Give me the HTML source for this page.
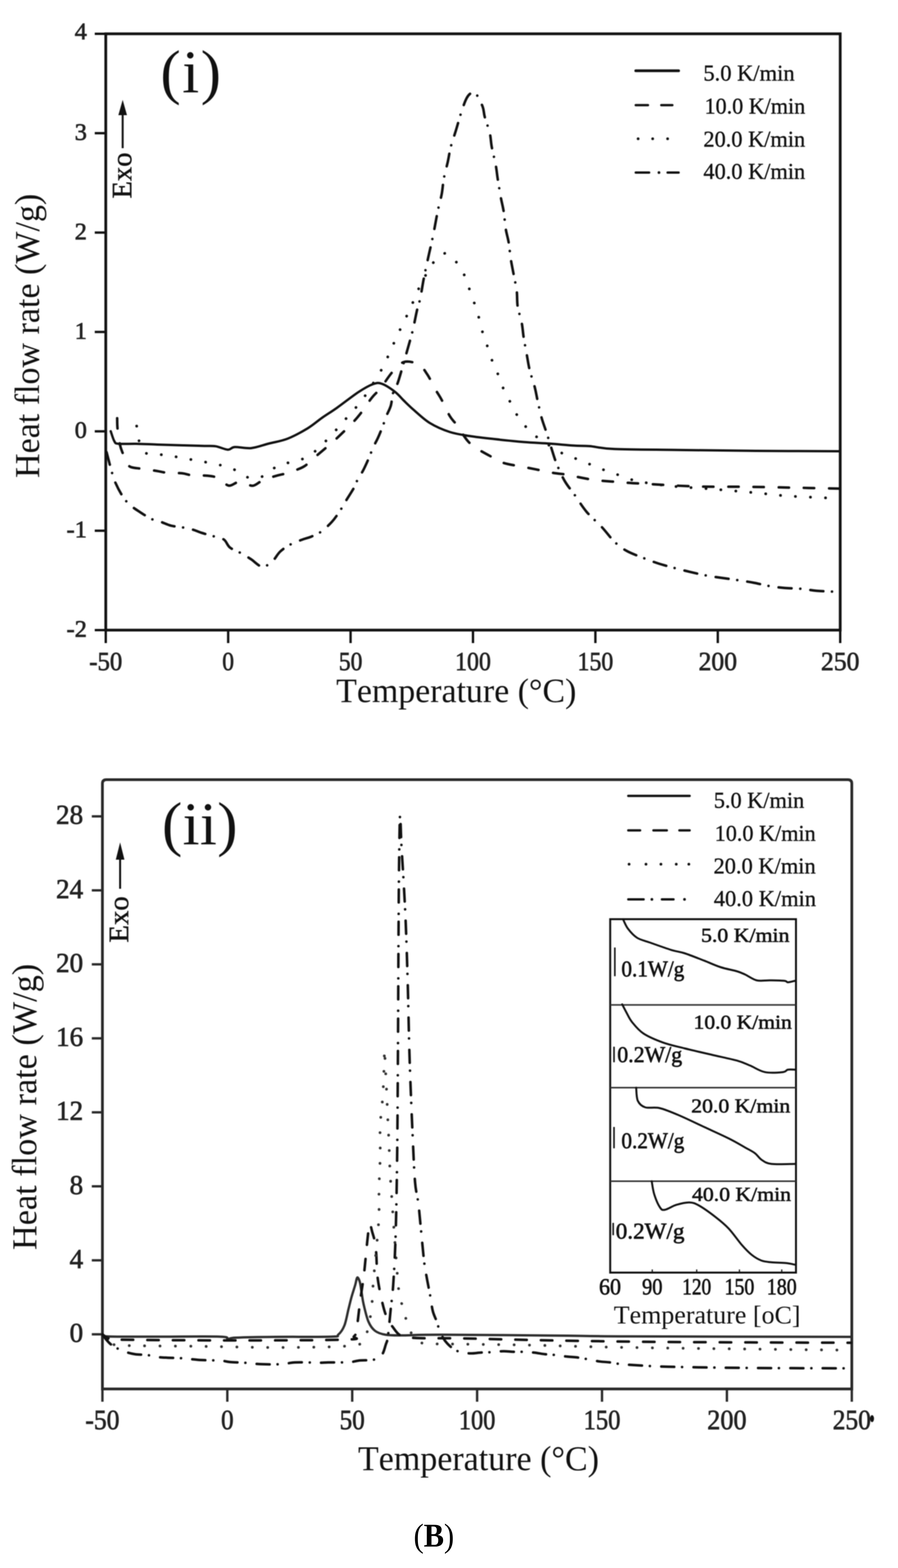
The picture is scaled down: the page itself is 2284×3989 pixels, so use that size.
<!DOCTYPE html>
<html><head><meta charset="utf-8"><title>Heat flow rate DSC curves (B)</title>
<style>
html,body{margin:0;padding:0;background:#fff;}
body{width:2284px;height:3989px;overflow:hidden;}
svg{display:block;font-family:'Liberation Serif', 'Times New Roman', serif;font-kerning:none;}
svg.main{filter:blur(1.3px);}
svg.cap{position:absolute;left:0;top:3800px;}
body{position:relative;}
</style></head>
<body>
<svg class="main" width="2284" height="3989" viewBox="0 0 2284 3989">
<rect width="2284" height="3989" fill="#fff"/>
<g stroke="#111" stroke-width="7" fill="none" stroke-linecap="square">
<path d="M269,1603 L269,86 L2137,86 L2137,1603 Z"/>
</g>
<line x1="241" y1="1603.0" x2="269" y2="1603.0" stroke="#111" stroke-width="6" />
<line x1="241" y1="1350.1666666666667" x2="269" y2="1350.1666666666667" stroke="#111" stroke-width="6" />
<line x1="241" y1="1097.3333333333335" x2="269" y2="1097.3333333333335" stroke="#111" stroke-width="6" />
<line x1="241" y1="844.5" x2="269" y2="844.5" stroke="#111" stroke-width="6" />
<line x1="241" y1="591.6666666666667" x2="269" y2="591.6666666666667" stroke="#111" stroke-width="6" />
<line x1="241" y1="338.83333333333337" x2="269" y2="338.83333333333337" stroke="#111" stroke-width="6" />
<line x1="241" y1="86.0" x2="269" y2="86.0" stroke="#111" stroke-width="6" />
<line x1="269.0" y1="1603" x2="269.0" y2="1636" stroke="#111" stroke-width="6" />
<line x1="580.3333333333333" y1="1603" x2="580.3333333333333" y2="1636" stroke="#111" stroke-width="6" />
<line x1="891.6666666666666" y1="1603" x2="891.6666666666666" y2="1636" stroke="#111" stroke-width="6" />
<line x1="1203.0" y1="1603" x2="1203.0" y2="1636" stroke="#111" stroke-width="6" />
<line x1="1514.3333333333333" y1="1603" x2="1514.3333333333333" y2="1636" stroke="#111" stroke-width="6" />
<line x1="1825.6666666666667" y1="1603" x2="1825.6666666666667" y2="1636" stroke="#111" stroke-width="6" />
<line x1="2137.0" y1="1603" x2="2137.0" y2="1636" stroke="#111" stroke-width="6" />
<text x="221" y="1620" font-size="62" text-anchor="end" font-weight="normal" fill="#222" stroke="#222" stroke-width="1.6">-2</text>
<text x="221" y="1367" font-size="62" text-anchor="end" font-weight="normal" fill="#222" stroke="#222" stroke-width="1.6">-1</text>
<text x="221" y="1114" font-size="62" text-anchor="end" font-weight="normal" fill="#222" stroke="#222" stroke-width="1.6">0</text>
<text x="221" y="862" font-size="62" text-anchor="end" font-weight="normal" fill="#222" stroke="#222" stroke-width="1.6">1</text>
<text x="221" y="609" font-size="62" text-anchor="end" font-weight="normal" fill="#222" stroke="#222" stroke-width="1.6">2</text>
<text x="221" y="356" font-size="62" text-anchor="end" font-weight="normal" fill="#222" stroke="#222" stroke-width="1.6">3</text>
<text x="221" y="100" font-size="62" text-anchor="end" font-weight="normal" fill="#222" stroke="#222" stroke-width="1.6">4</text>
<text x="269.0" y="1705" font-size="68" text-anchor="middle" font-weight="normal" fill="#222" textLength="84" lengthAdjust="spacingAndGlyphs" stroke="#222" stroke-width="1.6">-50</text>
<text x="580.3" y="1705" font-size="68" text-anchor="middle" font-weight="normal" fill="#222" textLength="30" lengthAdjust="spacingAndGlyphs" stroke="#222" stroke-width="1.6">0</text>
<text x="891.7" y="1705" font-size="68" text-anchor="middle" font-weight="normal" fill="#222" textLength="60" lengthAdjust="spacingAndGlyphs" stroke="#222" stroke-width="1.6">50</text>
<text x="1203.0" y="1705" font-size="68" text-anchor="middle" font-weight="normal" fill="#222" textLength="91" lengthAdjust="spacingAndGlyphs" stroke="#222" stroke-width="1.6">100</text>
<text x="1514.3" y="1705" font-size="68" text-anchor="middle" font-weight="normal" fill="#222" textLength="91" lengthAdjust="spacingAndGlyphs" stroke="#222" stroke-width="1.6">150</text>
<text x="1825.7" y="1705" font-size="68" text-anchor="middle" font-weight="normal" fill="#222" textLength="98" lengthAdjust="spacingAndGlyphs" stroke="#222" stroke-width="1.6">200</text>
<text x="2137.0" y="1705" font-size="68" text-anchor="middle" font-weight="normal" fill="#222" textLength="98" lengthAdjust="spacingAndGlyphs" stroke="#222" stroke-width="1.6">250</text>
<text transform="translate(98.5,1216) rotate(-90)" x="0" y="0" font-size="88" fill="#111" textLength="723" lengthAdjust="spacingAndGlyphs" >Heat flow rate (W/g)</text>
<text x="855" y="1786" font-size="87" text-anchor="start" font-weight="normal" fill="#111" textLength="611" lengthAdjust="spacingAndGlyphs" >Temperature (°C)</text>
<text x="408" y="235" font-size="155" fill="#111" textLength="154" lengthAdjust="spacing">(i)</text>
<text transform="translate(334,505) rotate(-90)" x="0" y="0" font-size="72" fill="#111" textLength="117" lengthAdjust="spacingAndGlyphs" stroke="#111" stroke-width="1">Exo</text>
<line x1="312" y1="377" x2="312" y2="285" stroke="#111" stroke-width="5" />
<path d="M312,254 L301,293 L323,293 Z" fill="#111"/>
<line x1="1617" y1="180" x2="1726" y2="180" stroke="#111" stroke-width="7" stroke-linecap="round"/>
<text x="1789" y="205" font-size="56" text-anchor="start" font-weight="normal" fill="#111" textLength="232" lengthAdjust="spacingAndGlyphs" stroke="#111" stroke-width="0.8">5.0 K/min</text>
<line x1="1617" y1="267.5" x2="1648" y2="267.5" stroke="#111" stroke-width="6" stroke-linecap="round"/>
<line x1="1682" y1="267.5" x2="1710" y2="267.5" stroke="#111" stroke-width="6" stroke-linecap="round"/>
<text x="1792" y="289" font-size="56" text-anchor="start" font-weight="normal" fill="#111" textLength="256" lengthAdjust="spacingAndGlyphs" stroke="#111" stroke-width="0.8">10.0 K/min</text>
<circle cx="1623" cy="353" r="3.5" fill="#111"/>
<circle cx="1660" cy="353" r="3.5" fill="#111"/>
<circle cx="1698" cy="353" r="3.5" fill="#111"/>
<text x="1789" y="373" font-size="56" text-anchor="start" font-weight="normal" fill="#111" textLength="259" lengthAdjust="spacingAndGlyphs" stroke="#111" stroke-width="0.8">20.0 K/min</text>
<line x1="1617" y1="439" x2="1651" y2="439" stroke="#111" stroke-width="6" stroke-linecap="round"/>
<circle cx="1676" cy="439" r="3.5" fill="#111"/>
<line x1="1698" y1="439" x2="1726" y2="439" stroke="#111" stroke-width="6" stroke-linecap="round"/>
<text x="1789" y="455" font-size="56" text-anchor="start" font-weight="normal" fill="#111" textLength="259" lengthAdjust="spacingAndGlyphs" stroke="#111" stroke-width="0.8">40.0 K/min</text>
<path d="M281.6,1097.0 C283.2,1101.3 287.6,1117.4 290.9,1122.7 C294.2,1128.0 291.9,1127.9 301.2,1128.9 C310.5,1130.0 330.0,1128.7 346.5,1129.0 C363.0,1129.3 380.1,1130.3 400.0,1131.0 C419.9,1131.7 446.0,1132.4 466.0,1133.0 C486.0,1133.6 506.2,1134.0 520.0,1134.4 C533.8,1134.8 538.9,1133.8 548.8,1135.4 C558.7,1137.0 571.6,1143.7 579.6,1144.0 C587.6,1144.3 587.1,1138.0 597.0,1137.3 C606.9,1136.6 624.8,1141.5 639.2,1140.0 C653.6,1138.5 668.1,1132.5 683.5,1128.5 C698.9,1124.5 715.0,1122.5 731.5,1116.0 C748.0,1109.5 768.0,1098.4 782.6,1089.6 C797.2,1080.8 806.6,1071.7 819.0,1063.0 C831.4,1054.3 841.1,1048.7 856.7,1037.7 C872.3,1026.7 896.9,1007.1 912.4,997.0 C927.9,986.9 939.6,980.4 949.5,977.0 C959.4,973.6 962.5,973.2 971.7,976.5 C981.0,979.8 995.8,989.9 1005.0,997.0 C1014.2,1004.1 1019.1,1011.3 1027.0,1019.0 C1034.9,1026.7 1041.5,1033.5 1052.5,1043.0 C1063.5,1052.5 1077.8,1066.7 1093.0,1076.0 C1108.2,1085.3 1127.0,1093.5 1144.0,1099.0 C1161.0,1104.5 1176.2,1106.2 1194.8,1109.2 C1213.4,1112.2 1232.9,1114.3 1255.8,1116.8 C1278.7,1119.3 1308.3,1122.5 1332.0,1124.4 C1355.7,1126.4 1376.8,1127.0 1398.0,1128.5 C1419.2,1130.0 1442.0,1132.5 1459.0,1133.6 C1476.0,1134.7 1482.8,1133.5 1500.0,1135.0 C1517.2,1136.5 1524.8,1140.7 1562.5,1142.3 C1600.2,1143.9 1665.9,1143.9 1726.0,1144.7 C1786.1,1145.5 1855.0,1146.5 1923.0,1147.0 C1991.0,1147.5 2098.8,1147.8 2134.0,1148.0" fill="none" stroke="#111" stroke-width="6" stroke-linecap="round" stroke-linejoin="round"/>
<path d="M298.0,1064.0 C298.2,1068.5 297.8,1079.8 299.0,1091.0 C300.2,1102.2 302.8,1120.6 305.0,1131.0 C307.2,1141.4 309.2,1145.4 312.5,1153.6 C315.8,1161.8 321.4,1174.2 325.0,1180.0 C328.6,1185.8 327.7,1186.6 334.0,1188.7 C340.3,1190.8 352.3,1191.2 363.0,1192.8 C373.7,1194.3 387.3,1196.3 398.0,1198.0 C408.7,1199.7 416.2,1202.0 427.0,1203.0 C437.8,1204.0 452.7,1203.0 463.0,1204.0 C473.3,1205.0 477.9,1208.2 488.7,1209.3 C499.5,1210.3 516.9,1209.1 527.9,1210.3 C538.9,1211.5 545.7,1212.0 554.6,1216.2 C563.5,1220.4 573.2,1233.6 581.5,1235.4 C589.8,1237.2 597.4,1227.7 604.6,1227.0 C611.9,1226.3 618.3,1229.6 625.0,1231.0 C631.7,1232.4 637.5,1237.1 645.0,1235.4 C652.5,1233.7 659.8,1225.3 670.0,1221.0 C680.2,1216.7 695.9,1212.5 706.5,1209.4 C717.1,1206.4 722.6,1206.4 733.5,1202.7 C744.4,1199.0 761.8,1193.1 772.0,1187.3 C782.2,1181.5 782.1,1179.0 795.0,1168.0 C807.9,1157.0 833.0,1136.3 849.5,1121.4 C866.0,1106.5 882.4,1090.3 893.8,1078.5 C905.2,1066.7 909.3,1061.8 918.0,1050.7 C926.7,1039.6 937.5,1022.2 945.8,1011.7 C954.1,1001.2 959.4,998.4 968.0,987.6 C976.6,976.8 987.9,957.9 997.7,946.8 C1007.5,935.7 1015.9,924.3 1027.0,921.0 C1038.1,917.7 1054.5,921.8 1064.5,927.0 C1074.5,932.2 1079.4,941.5 1086.7,952.4 C1094.0,963.3 1102.2,981.4 1108.4,992.3 C1114.6,1003.2 1117.7,1006.7 1123.6,1017.7 C1129.5,1028.7 1137.7,1047.8 1144.0,1058.4 C1150.3,1069.0 1154.1,1070.6 1161.7,1081.2 C1169.3,1091.8 1180.8,1111.7 1189.7,1121.9 C1198.6,1132.1 1204.0,1135.0 1215.0,1142.2 C1226.0,1149.4 1244.8,1159.2 1255.8,1165.1 C1266.8,1171.0 1271.0,1174.4 1281.2,1177.8 C1291.4,1181.2 1306.1,1183.3 1316.7,1185.4 C1327.3,1187.5 1333.7,1188.4 1344.7,1190.5 C1355.7,1192.6 1372.2,1196.0 1382.8,1198.1 C1393.4,1200.2 1397.2,1201.5 1408.2,1203.2 C1419.2,1204.9 1438.7,1206.6 1448.9,1208.3 C1459.1,1210.0 1459.0,1211.3 1469.2,1213.4 C1479.4,1215.5 1498.9,1219.3 1509.9,1221.0 C1520.9,1222.7 1525.1,1222.7 1535.3,1223.5 C1545.5,1224.3 1559.9,1225.2 1570.9,1226.1 C1581.9,1226.9 1589.2,1227.8 1601.4,1228.6 C1613.6,1229.4 1616.1,1229.5 1644.0,1231.0 C1671.9,1232.5 1725.7,1236.2 1769.0,1237.5 C1812.3,1238.8 1859.9,1237.9 1904.0,1238.5 C1948.1,1239.1 1995.4,1240.2 2033.7,1240.9 C2072.0,1241.7 2117.3,1242.7 2134.0,1243.0" fill="none" stroke="#111" stroke-width="6.5" stroke-linecap="round" stroke-linejoin="round" stroke-dasharray="26 38"/>
<path d="M347.6,1084.0 C348.3,1089.3 348.4,1104.7 352.0,1116.0 C355.6,1127.3 359.6,1144.8 369.2,1151.6 C378.8,1158.4 396.5,1155.0 409.4,1156.7 C422.3,1158.4 433.8,1159.9 446.5,1161.9 C459.2,1164.0 472.7,1166.7 485.6,1169.0 C498.5,1171.3 511.2,1173.4 523.8,1175.8 C536.4,1178.2 548.8,1180.1 561.3,1183.5 C573.8,1186.9 586.3,1190.5 598.8,1196.0 C611.3,1201.5 623.8,1214.0 636.3,1216.2 C648.8,1218.4 661.6,1215.0 673.8,1209.4 C686.0,1203.8 697.0,1188.3 709.4,1182.5 C721.8,1176.7 735.1,1178.6 747.9,1174.8 C760.7,1171.0 774.0,1167.0 786.3,1159.4 C798.6,1151.8 809.4,1140.8 821.6,1129.0 C833.8,1117.2 847.9,1101.5 859.7,1088.4 C871.6,1075.3 882.1,1062.6 892.7,1050.3 C903.3,1038.0 910.1,1033.4 923.2,1014.7 C936.3,996.1 960.3,957.8 971.5,938.4 C982.7,919.0 984.4,911.4 990.3,898.6 C996.2,885.8 1001.1,874.3 1007.0,861.5 C1012.9,848.7 1019.3,834.7 1025.5,821.8 C1031.7,808.9 1038.2,797.1 1044.0,784.3 C1049.8,771.5 1054.0,758.2 1060.0,745.0 C1066.0,731.8 1073.2,717.6 1080.0,705.0 C1086.8,692.4 1094.3,678.8 1101.0,669.6 C1107.7,660.4 1113.7,653.9 1120.0,650.0 C1126.3,646.1 1130.8,642.0 1138.9,646.5 C1147.0,651.0 1160.5,665.5 1168.6,677.0 C1176.7,688.5 1182.4,703.2 1187.5,715.8 C1192.6,728.4 1194.6,740.3 1199.0,752.8 C1203.4,765.3 1210.0,777.8 1213.9,790.8 C1217.9,803.8 1219.1,818.3 1222.7,831.0 C1226.3,843.7 1231.2,854.1 1235.4,867.0 C1239.6,879.9 1243.4,895.6 1248.1,908.4 C1252.8,921.2 1258.3,931.3 1263.4,944.0 C1268.5,956.7 1273.1,972.0 1278.6,984.7 C1284.1,997.4 1290.1,1008.0 1296.4,1020.3 C1302.8,1032.6 1307.8,1045.3 1316.7,1058.4 C1325.6,1071.5 1337.9,1087.6 1349.8,1099.0 C1361.7,1110.4 1374.8,1118.1 1387.9,1127.0 C1401.0,1135.9 1415.5,1145.6 1428.6,1152.4 C1441.7,1159.2 1454.0,1162.5 1466.7,1167.6 C1479.4,1172.7 1492.1,1177.8 1504.8,1182.9 C1517.5,1188.0 1530.2,1193.4 1542.9,1198.1 C1555.6,1202.8 1568.3,1206.6 1581.0,1210.8 C1593.7,1215.0 1599.3,1219.3 1619.1,1223.5 C1638.9,1227.7 1667.8,1232.5 1700.0,1236.0 C1732.2,1239.5 1775.3,1241.2 1812.5,1244.2 C1849.7,1247.2 1891.8,1250.9 1923.0,1253.8 C1954.2,1256.7 1967.9,1259.2 2000.0,1261.5 C2032.1,1263.8 2093.1,1266.2 2115.4,1267.3 C2137.7,1268.4 2130.9,1267.9 2134.0,1268.0" fill="none" stroke="#111" stroke-width="7" stroke-linecap="round" stroke-linejoin="round" stroke-dasharray="0.1 38"/>
<path d="M271.0,1150.0 C273.3,1158.7 281.0,1189.2 284.7,1202.0 C288.4,1214.8 288.9,1217.3 293.0,1226.8 C297.1,1236.2 303.7,1249.4 309.5,1258.7 C315.3,1268.0 320.4,1275.2 328.0,1282.4 C335.6,1289.6 345.2,1295.7 354.8,1302.0 C364.4,1308.3 376.5,1316.2 385.7,1320.5 C394.9,1324.8 401.7,1325.2 410.0,1328.0 C418.3,1330.8 425.6,1335.0 435.3,1337.4 C445.0,1339.8 459.1,1340.8 468.4,1342.5 C477.7,1344.2 484.0,1345.5 491.2,1347.6 C498.4,1349.7 502.3,1352.2 511.6,1355.2 C520.9,1358.2 537.5,1362.4 547.2,1365.4 C556.9,1368.4 563.6,1368.3 570.0,1373.0 C576.4,1377.7 577.7,1387.4 585.3,1393.3 C592.9,1399.2 606.9,1403.7 615.8,1408.6 C624.7,1413.5 630.1,1417.3 638.6,1422.8 C647.1,1428.3 657.7,1440.6 666.6,1441.6 C675.5,1442.6 684.4,1435.2 692.0,1428.9 C699.6,1422.6 704.7,1410.7 712.3,1403.5 C719.9,1396.3 728.4,1390.8 737.7,1385.7 C747.0,1380.6 759.3,1376.4 768.2,1373.0 C777.1,1369.6 783.1,1368.8 791.1,1365.4 C799.1,1362.0 807.6,1359.1 816.5,1352.7 C825.4,1346.3 836.5,1336.1 844.5,1327.2 C852.5,1318.3 858.9,1308.2 864.8,1299.3 C870.7,1290.4 874.1,1283.7 880.0,1273.9 C885.9,1264.2 895.3,1250.1 900.4,1240.8 C905.5,1231.5 906.7,1225.2 910.5,1218.0 C914.3,1210.8 918.5,1206.5 923.2,1197.6 C927.9,1188.7 934.3,1174.3 938.5,1164.6 C942.7,1154.9 944.8,1147.7 948.6,1139.2 C952.4,1130.7 957.1,1123.0 961.3,1113.8 C965.5,1104.6 970.0,1093.3 973.6,1084.0 C977.2,1074.7 979.5,1066.7 982.9,1058.0 C986.3,1049.3 991.2,1041.6 994.0,1032.0 C996.8,1022.4 996.7,1009.9 999.5,1000.6 C1002.3,991.4 1007.3,985.5 1010.7,976.5 C1014.1,967.5 1016.0,960.4 1020.0,946.8 C1024.0,933.2 1029.9,912.5 1034.8,894.9 C1039.7,877.3 1045.3,858.6 1049.6,841.0 C1053.9,823.4 1057.5,802.6 1060.7,789.0 C1063.9,775.4 1065.9,772.9 1068.8,759.4 C1071.7,745.9 1074.5,725.9 1077.9,708.3 C1081.3,690.7 1085.4,672.4 1089.4,654.0 C1093.4,635.6 1097.8,617.5 1101.8,597.9 C1105.8,578.3 1109.9,553.8 1113.5,536.3 C1117.1,518.8 1121.1,506.6 1123.6,493.0 C1126.1,479.4 1126.2,468.6 1128.7,455.0 C1131.2,441.4 1135.9,425.3 1138.9,411.7 C1141.9,398.1 1143.1,386.7 1146.5,373.6 C1149.9,360.5 1154.5,348.2 1159.2,333.0 C1163.9,317.8 1169.7,296.1 1174.4,282.1 C1179.1,268.1 1183.0,256.7 1187.2,249.1 C1191.5,241.5 1195.7,237.7 1199.9,236.4 C1204.1,235.1 1207.9,235.6 1212.6,241.5 C1217.2,247.4 1224.4,262.7 1227.8,272.0 C1231.2,281.3 1229.9,286.4 1232.9,297.4 C1235.9,308.4 1242.6,325.3 1245.6,338.0 C1248.6,350.7 1248.2,360.0 1250.7,373.6 C1253.2,387.2 1258.3,405.8 1260.8,419.4 C1263.3,433.0 1263.8,441.4 1265.9,455.0 C1268.0,468.6 1271.0,486.7 1273.5,500.7 C1276.0,514.7 1279.1,525.2 1281.2,538.8 C1283.3,552.3 1284.2,568.9 1286.3,582.0 C1288.4,595.1 1291.8,604.9 1293.9,617.6 C1296.0,630.3 1296.9,644.7 1299.0,658.2 C1301.1,671.8 1304.1,685.4 1306.6,698.9 C1309.1,712.4 1312.5,726.0 1314.2,739.5 C1315.9,753.0 1314.6,766.6 1316.7,780.2 C1318.8,793.8 1324.4,807.8 1326.9,820.9 C1329.5,834.0 1329.9,845.7 1332.0,859.0 C1334.1,872.3 1337.1,887.0 1339.6,900.8 C1342.1,914.5 1343.8,927.5 1347.2,941.5 C1350.6,955.5 1356.6,971.6 1360.0,984.7 C1363.4,997.8 1364.6,1007.2 1367.6,1020.3 C1370.5,1033.4 1373.9,1050.0 1377.7,1063.5 C1381.5,1077.0 1386.2,1088.5 1390.4,1101.6 C1394.6,1114.7 1398.8,1129.1 1403.1,1142.2 C1407.3,1155.3 1410.4,1166.8 1415.9,1180.3 C1421.4,1193.8 1428.6,1210.4 1436.2,1223.5 C1443.8,1236.6 1452.3,1246.0 1461.6,1259.1 C1470.9,1272.2 1480.7,1288.8 1492.1,1302.3 C1503.5,1315.8 1518.3,1327.7 1530.2,1340.4 C1542.1,1353.1 1552.6,1368.4 1563.2,1378.6 C1573.8,1388.8 1581.8,1394.7 1593.7,1401.4 C1605.6,1408.1 1621.4,1413.5 1634.6,1418.8 C1647.8,1424.0 1659.4,1428.6 1673.0,1433.0 C1686.6,1437.4 1702.7,1441.6 1716.3,1445.2 C1729.9,1448.8 1741.2,1451.6 1754.8,1454.8 C1768.4,1458.0 1784.4,1461.8 1798.0,1464.4 C1811.6,1467.0 1822.9,1468.2 1836.5,1470.2 C1850.1,1472.2 1866.2,1474.3 1879.8,1476.4 C1893.4,1478.5 1905.5,1480.3 1918.3,1482.7 C1931.1,1485.1 1943.9,1488.7 1956.7,1490.9 C1969.5,1493.1 1981.6,1494.5 1995.2,1495.7 C2008.8,1496.9 2024.9,1496.8 2038.5,1498.0 C2052.1,1499.2 2063.4,1501.7 2077.0,1502.9 C2090.6,1504.1 2110.6,1504.5 2120.2,1505.3 C2129.8,1506.1 2132.2,1507.3 2134.6,1507.7" fill="none" stroke="#111" stroke-width="6.5" stroke-linecap="round" stroke-linejoin="round" stroke-dasharray="33 22 0.1 26"/>
<path d="M260.5,3533.5 L260.5,1993.5 Q260.5,1983.5 270.5,1983.5 L2156.5,1983.5 Q2166.5,1983.5 2166.5,1993.5 L2166.5,3533.5 Z" fill="none" stroke="#2a2a2a" stroke-width="7"/>
<line x1="233.5" y1="3394.5" x2="260.5" y2="3394.5" stroke="#2a2a2a" stroke-width="6" />
<text x="211.5" y="3414" font-size="69" text-anchor="end" font-weight="normal" fill="#222" stroke="#222" stroke-width="1.6">0</text>
<line x1="233.5" y1="3206.26" x2="260.5" y2="3206.26" stroke="#2a2a2a" stroke-width="6" />
<text x="211.5" y="3226" font-size="69" text-anchor="end" font-weight="normal" fill="#222" stroke="#222" stroke-width="1.6">4</text>
<line x1="233.5" y1="3018.02" x2="260.5" y2="3018.02" stroke="#2a2a2a" stroke-width="6" />
<text x="211.5" y="3038" font-size="69" text-anchor="end" font-weight="normal" fill="#222" stroke="#222" stroke-width="1.6">8</text>
<line x1="233.5" y1="2829.7799999999997" x2="260.5" y2="2829.7799999999997" stroke="#2a2a2a" stroke-width="6" />
<text x="211.5" y="2849" font-size="69" text-anchor="end" font-weight="normal" fill="#222" stroke="#222" stroke-width="1.6">12</text>
<line x1="233.5" y1="2641.54" x2="260.5" y2="2641.54" stroke="#2a2a2a" stroke-width="6" />
<text x="211.5" y="2661" font-size="69" text-anchor="end" font-weight="normal" fill="#222" stroke="#222" stroke-width="1.6">16</text>
<line x1="233.5" y1="2453.3" x2="260.5" y2="2453.3" stroke="#2a2a2a" stroke-width="6" />
<text x="211.5" y="2473" font-size="69" text-anchor="end" font-weight="normal" fill="#222" stroke="#222" stroke-width="1.6">20</text>
<line x1="233.5" y1="2265.06" x2="260.5" y2="2265.06" stroke="#2a2a2a" stroke-width="6" />
<text x="211.5" y="2285" font-size="69" text-anchor="end" font-weight="normal" fill="#222" stroke="#222" stroke-width="1.6">24</text>
<line x1="233.5" y1="2076.8199999999997" x2="260.5" y2="2076.8199999999997" stroke="#2a2a2a" stroke-width="6" />
<text x="211.5" y="2096" font-size="69" text-anchor="end" font-weight="normal" fill="#222" stroke="#222" stroke-width="1.6">28</text>
<line x1="260.5" y1="3533.5" x2="260.5" y2="3566" stroke="#2a2a2a" stroke-width="6" />
<text x="260.5" y="3636" font-size="71" text-anchor="middle" font-weight="normal" fill="#222" textLength="87" lengthAdjust="spacingAndGlyphs" stroke="#222" stroke-width="1.6">-50</text>
<line x1="578.1666666666667" y1="3533.5" x2="578.1666666666667" y2="3566" stroke="#2a2a2a" stroke-width="6" />
<text x="578.2" y="3636" font-size="71" text-anchor="middle" font-weight="normal" fill="#222" textLength="32" lengthAdjust="spacingAndGlyphs" stroke="#222" stroke-width="1.6">0</text>
<line x1="895.8333333333334" y1="3533.5" x2="895.8333333333334" y2="3566" stroke="#2a2a2a" stroke-width="6" />
<text x="895.8" y="3636" font-size="71" text-anchor="middle" font-weight="normal" fill="#222" textLength="64" lengthAdjust="spacingAndGlyphs" stroke="#222" stroke-width="1.6">50</text>
<line x1="1213.5" y1="3533.5" x2="1213.5" y2="3566" stroke="#2a2a2a" stroke-width="6" />
<text x="1213.5" y="3636" font-size="71" text-anchor="middle" font-weight="normal" fill="#222" textLength="93" lengthAdjust="spacingAndGlyphs" stroke="#222" stroke-width="1.6">100</text>
<line x1="1531.1666666666667" y1="3533.5" x2="1531.1666666666667" y2="3566" stroke="#2a2a2a" stroke-width="6" />
<text x="1531.2" y="3636" font-size="71" text-anchor="middle" font-weight="normal" fill="#222" textLength="94" lengthAdjust="spacingAndGlyphs" stroke="#222" stroke-width="1.6">150</text>
<line x1="1848.8333333333333" y1="3533.5" x2="1848.8333333333333" y2="3566" stroke="#2a2a2a" stroke-width="6" />
<text x="1848.8" y="3636" font-size="71" text-anchor="middle" font-weight="normal" fill="#222" textLength="100" lengthAdjust="spacingAndGlyphs" stroke="#222" stroke-width="1.6">200</text>
<line x1="2166.5" y1="3533.5" x2="2166.5" y2="3566" stroke="#2a2a2a" stroke-width="6" />
<text x="2166.5" y="3636" font-size="71" text-anchor="middle" font-weight="normal" fill="#222" textLength="97" lengthAdjust="spacingAndGlyphs" stroke="#222" stroke-width="1.6">250</text>
<ellipse cx="2218" cy="3609" rx="5" ry="9" fill="#111"/>
<text transform="translate(92,3180) rotate(-90)" x="0" y="0" font-size="88" fill="#111" textLength="728" lengthAdjust="spacingAndGlyphs" >Heat flow rate (W/g)</text>
<text x="910.5" y="3740" font-size="89" text-anchor="start" font-weight="normal" fill="#111" textLength="613" lengthAdjust="spacingAndGlyphs" >Temperature (°C)</text>
<text x="412" y="2148" font-size="155" fill="#111" textLength="192" lengthAdjust="spacing">(ii)</text>
<text transform="translate(326,2398) rotate(-90)" x="0" y="0" font-size="72" fill="#111" textLength="118" lengthAdjust="spacingAndGlyphs" stroke="#111" stroke-width="1">Exo</text>
<line x1="305.5" y1="2261" x2="305.5" y2="2180" stroke="#111" stroke-width="5" />
<path d="M305.5,2143 L294.5,2187 L316.5,2187 Z" fill="#111"/>
<line x1="1598" y1="2024.7" x2="1754" y2="2024.7" stroke="#111" stroke-width="6" stroke-linecap="round"/>
<text x="1815.5" y="2055" font-size="58" text-anchor="start" font-weight="normal" fill="#111" textLength="230" lengthAdjust="spacingAndGlyphs" stroke="#111" stroke-width="0.8">5.0 K/min</text>
<line x1="1598" y1="2112.5" x2="1628" y2="2112.5" stroke="#111" stroke-width="6" stroke-linecap="round"/>
<line x1="1662" y1="2112.5" x2="1696" y2="2112.5" stroke="#111" stroke-width="6" stroke-linecap="round"/>
<line x1="1728" y1="2112.5" x2="1754" y2="2112.5" stroke="#111" stroke-width="6" stroke-linecap="round"/>
<text x="1817.7" y="2139" font-size="58" text-anchor="start" font-weight="normal" fill="#111" textLength="257" lengthAdjust="spacingAndGlyphs" stroke="#111" stroke-width="0.8">10.0 K/min</text>
<circle cx="1600" cy="2198.5" r="3.5" fill="#111"/>
<circle cx="1643" cy="2198.5" r="3.5" fill="#111"/>
<circle cx="1681" cy="2198.5" r="3.5" fill="#111"/>
<circle cx="1720" cy="2198.5" r="3.5" fill="#111"/>
<circle cx="1752" cy="2198.5" r="3.5" fill="#111"/>
<text x="1814.7" y="2222" font-size="58" text-anchor="start" font-weight="normal" fill="#111" textLength="260" lengthAdjust="spacingAndGlyphs" stroke="#111" stroke-width="0.8">20.0 K/min</text>
<line x1="1598" y1="2288" x2="1637" y2="2288" stroke="#111" stroke-width="6" stroke-linecap="round"/>
<circle cx="1658" cy="2288" r="3.5" fill="#111"/>
<line x1="1683.5" y1="2288" x2="1713" y2="2288" stroke="#111" stroke-width="6" stroke-linecap="round"/>
<circle cx="1741" cy="2288" r="3.5" fill="#111"/>
<text x="1815.5" y="2305" font-size="58" text-anchor="start" font-weight="normal" fill="#111" textLength="260" lengthAdjust="spacingAndGlyphs" stroke="#111" stroke-width="0.8">40.0 K/min</text>
<rect x="1552" y="2338.4" width="472.5" height="899.0999999999999" fill="none" stroke="#111" stroke-width="5"/>
<line x1="1552" y1="2556.5" x2="2024.5" y2="2556.5" stroke="#333" stroke-width="4" />
<line x1="1552" y1="2767" x2="2024.5" y2="2767" stroke="#333" stroke-width="4" />
<line x1="1552" y1="3005" x2="2024.5" y2="3005" stroke="#333" stroke-width="4" />
<text x="2008" y="2396" font-size="50" text-anchor="end" font-weight="normal" fill="#111" textLength="225" lengthAdjust="spacingAndGlyphs" stroke="#111" stroke-width="1.3">5.0 K/min</text>
<text x="2014" y="2617" font-size="50" text-anchor="end" font-weight="normal" fill="#111" textLength="250" lengthAdjust="spacingAndGlyphs" stroke="#111" stroke-width="1.3">10.0 K/min</text>
<text x="2010" y="2829.6" font-size="50" text-anchor="end" font-weight="normal" fill="#111" textLength="252" lengthAdjust="spacingAndGlyphs" stroke="#111" stroke-width="1.3">20.0 K/min</text>
<text x="2012" y="3054.8" font-size="50" text-anchor="end" font-weight="normal" fill="#111" textLength="252" lengthAdjust="spacingAndGlyphs" stroke="#111" stroke-width="1.3">40.0 K/min</text>
<line x1="1563.8" y1="2410.5" x2="1563.8" y2="2483.5" stroke="#111" stroke-width="4" />
<text x="1580.5" y="2483.5" font-size="58" text-anchor="start" font-weight="normal" fill="#111" textLength="160" lengthAdjust="spacingAndGlyphs" stroke="#111" stroke-width="1.5">0.1W/g</text>
<line x1="1561.7" y1="2662.8" x2="1561.7" y2="2702.4" stroke="#111" stroke-width="4" />
<text x="1570" y="2702.4" font-size="58" text-anchor="start" font-weight="normal" fill="#111" textLength="165" lengthAdjust="spacingAndGlyphs" stroke="#111" stroke-width="1.5">0.2W/g</text>
<line x1="1561.7" y1="2867" x2="1561.7" y2="2921.3" stroke="#111" stroke-width="4" />
<text x="1580.5" y="2921.3" font-size="58" text-anchor="start" font-weight="normal" fill="#111" textLength="160" lengthAdjust="spacingAndGlyphs" stroke="#111" stroke-width="1.5">0.2W/g</text>
<line x1="1559.6" y1="3111" x2="1559.6" y2="3142.4" stroke="#111" stroke-width="4" />
<text x="1566" y="3150.7" font-size="58" text-anchor="start" font-weight="normal" fill="#111" textLength="175" lengthAdjust="spacingAndGlyphs" stroke="#111" stroke-width="1.5">0.2W/g</text>
<text x="1551.5" y="3293" font-size="60" text-anchor="middle" font-weight="normal" fill="#111" textLength="56" lengthAdjust="spacingAndGlyphs" stroke="#111" stroke-width="1.5">60</text>
<text x="1659" y="3293" font-size="60" text-anchor="middle" font-weight="normal" fill="#111" textLength="52" lengthAdjust="spacingAndGlyphs" stroke="#111" stroke-width="1.5">90</text>
<line x1="1659" y1="3237.5" x2="1659" y2="3229.5" stroke="#111" stroke-width="3" />
<text x="1772" y="3293" font-size="60" text-anchor="middle" font-weight="normal" fill="#111" textLength="74" lengthAdjust="spacingAndGlyphs" stroke="#111" stroke-width="1.5">120</text>
<line x1="1772" y1="3237.5" x2="1772" y2="3229.5" stroke="#111" stroke-width="3" />
<text x="1880.7" y="3293" font-size="60" text-anchor="middle" font-weight="normal" fill="#111" textLength="76" lengthAdjust="spacingAndGlyphs" stroke="#111" stroke-width="1.5">150</text>
<line x1="1880.7" y1="3237.5" x2="1880.7" y2="3229.5" stroke="#111" stroke-width="3" />
<text x="1988.3" y="3293" font-size="60" text-anchor="middle" font-weight="normal" fill="#111" textLength="76" lengthAdjust="spacingAndGlyphs" stroke="#111" stroke-width="1.5">180</text>
<line x1="1988.3" y1="3237.5" x2="1988.3" y2="3229.5" stroke="#111" stroke-width="3" />
<text x="1561" y="3367" font-size="65" text-anchor="start" font-weight="normal" fill="#111" textLength="475" lengthAdjust="spacingAndGlyphs" >Temperature [oC]</text>
<path d="M1584.6,2338.4 C1586.7,2342.4 1591.2,2354.8 1597.1,2362.6 C1603.0,2370.4 1610.6,2379.6 1620.0,2385.5 C1629.4,2391.4 1638.8,2392.8 1653.4,2398.0 C1668.0,2403.2 1693.1,2412.3 1707.7,2416.8 C1722.3,2421.3 1727.1,2420.5 1741.0,2425.0 C1754.9,2429.5 1775.7,2438.0 1791.0,2443.9 C1806.3,2449.8 1818.9,2456.0 1832.8,2460.5 C1846.7,2465.0 1864.1,2467.9 1874.5,2471.0 C1884.9,2474.1 1887.0,2475.5 1895.3,2479.3 C1903.6,2483.1 1914.1,2491.6 1924.5,2494.0 C1934.9,2496.4 1946.1,2493.8 1957.9,2494.0 C1969.7,2494.2 1987.8,2494.4 1995.4,2495.2 C2003.0,2496.0 1999.3,2499.0 2003.7,2499.0 C2008.1,2499.0 2019.0,2495.8 2022.0,2495.2" fill="none" stroke="#111" stroke-width="5" stroke-linecap="round" stroke-linejoin="round"/>
<path d="M1582.5,2555.0 C1584.2,2558.4 1588.8,2567.7 1593.0,2575.2 C1597.2,2582.7 1600.3,2591.2 1607.6,2600.2 C1614.9,2609.2 1623.6,2620.7 1636.8,2629.4 C1650.0,2638.1 1669.4,2646.1 1686.8,2652.4 C1704.2,2658.7 1720.2,2661.8 1741.0,2667.0 C1761.8,2672.2 1789.7,2678.5 1811.9,2683.7 C1834.2,2688.9 1858.5,2693.7 1874.5,2698.2 C1890.5,2702.7 1896.0,2705.9 1907.8,2710.8 C1919.6,2715.7 1931.5,2724.6 1945.4,2727.4 C1959.3,2730.2 1981.5,2728.4 1991.2,2727.4 C2000.9,2726.4 1998.6,2722.2 2003.7,2721.2 C2008.8,2720.2 2019.0,2721.2 2022.0,2721.2" fill="none" stroke="#111" stroke-width="5" stroke-linecap="round" stroke-linejoin="round"/>
<path d="M1618.0,2767.0 C1618.7,2772.6 1618.4,2792.1 1622.2,2800.4 C1626.0,2808.7 1631.6,2813.9 1641.0,2817.0 C1650.4,2820.1 1663.9,2815.7 1678.5,2819.2 C1693.1,2822.7 1709.8,2830.0 1728.5,2838.0 C1747.2,2846.0 1770.2,2857.4 1791.0,2867.1 C1811.8,2876.8 1836.2,2887.6 1853.6,2896.3 C1871.0,2905.0 1884.2,2913.0 1895.3,2919.3 C1906.4,2925.6 1913.3,2928.7 1920.3,2933.9 C1927.2,2939.1 1930.0,2946.0 1937.0,2950.5 C1944.0,2955.0 1947.8,2959.2 1962.0,2961.0 C1976.2,2962.8 2012.0,2961.0 2022.0,2961.0" fill="none" stroke="#111" stroke-width="5" stroke-linecap="round" stroke-linejoin="round"/>
<path d="M1657.6,3005.0 C1658.6,3010.5 1660.4,3026.9 1663.9,3038.0 C1667.4,3049.1 1674.0,3064.9 1678.5,3071.5 C1683.0,3078.1 1684.0,3078.8 1691.0,3077.7 C1698.0,3076.6 1709.8,3068.3 1720.2,3065.2 C1730.6,3062.1 1743.8,3058.7 1753.5,3059.0 C1763.2,3059.3 1767.4,3061.1 1778.5,3067.3 C1789.6,3073.6 1807.8,3086.8 1820.3,3096.5 C1832.8,3106.2 1842.5,3113.9 1853.6,3125.7 C1864.7,3137.5 1877.3,3156.3 1887.0,3167.4 C1896.7,3178.5 1903.7,3185.8 1912.0,3192.4 C1920.3,3199.0 1928.7,3203.9 1937.0,3207.0 C1945.3,3210.1 1951.6,3210.1 1962.0,3211.2 C1972.4,3212.2 1989.6,3212.3 1999.6,3213.3 C2009.6,3214.3 2018.3,3216.7 2022.0,3217.4" fill="none" stroke="#111" stroke-width="5" stroke-linecap="round" stroke-linejoin="round"/>
<path d="M261.0,3395.0 C263.5,3395.8 252.8,3399.1 276.0,3400.0 C299.2,3400.9 352.8,3400.4 400.0,3400.5 C447.2,3400.6 529.0,3399.5 559.0,3400.4 C589.0,3401.3 572.9,3405.6 579.7,3406.0 C586.5,3406.4 580.0,3403.8 600.0,3403.0 C620.0,3402.2 659.6,3401.4 700.0,3401.0 C740.4,3400.6 815.7,3401.3 842.4,3400.4 C869.1,3399.5 854.8,3400.0 860.4,3395.3 C866.0,3390.6 871.7,3382.7 876.0,3372.0 C880.3,3361.3 883.2,3343.0 886.2,3331.0 C889.2,3319.0 891.1,3310.4 894.0,3300.0 C896.9,3289.6 901.2,3276.8 903.6,3268.5 C906.0,3260.2 906.7,3251.1 908.6,3250.0 C910.5,3248.9 913.4,3255.1 915.3,3261.8 C917.2,3268.5 918.4,3280.6 920.0,3290.0 C921.6,3299.4 922.0,3306.0 924.8,3318.0 C927.6,3330.0 932.2,3350.8 937.0,3362.0 C941.8,3373.2 946.5,3379.9 953.7,3385.5 C960.9,3391.1 969.2,3393.6 980.4,3395.5 C991.5,3397.4 996.7,3397.2 1020.6,3397.2 C1044.5,3397.2 1058.4,3395.5 1123.6,3395.6 C1188.8,3395.7 1332.6,3397.0 1412.0,3397.7 C1491.4,3398.4 1474.7,3399.2 1600.0,3399.8 C1725.3,3400.4 2070.0,3400.8 2164.0,3401.0" fill="none" stroke="#2e2e2e" stroke-width="6" stroke-linecap="round" stroke-linejoin="round"/>
<path d="M261.0,3395.0 C263.3,3396.5 268.5,3401.8 275.0,3404.0 C281.5,3406.2 245.8,3407.0 300.0,3408.0 C354.2,3409.0 503.3,3410.0 600.0,3410.0 C696.7,3410.0 830.0,3409.7 880.0,3408.0 C930.0,3406.3 895.5,3404.3 900.0,3400.0 C904.5,3395.7 904.3,3397.0 907.0,3382.0 C909.7,3367.0 913.0,3332.3 916.0,3310.0 C919.0,3287.7 922.7,3266.3 925.0,3248.0 C927.3,3229.7 928.3,3216.3 930.0,3200.0 C931.7,3183.7 933.3,3164.5 935.0,3150.0 C936.7,3135.5 938.0,3115.5 940.0,3113.0 C942.0,3110.5 944.7,3127.2 947.0,3135.0 C949.3,3142.8 952.0,3150.8 953.7,3160.0 C955.4,3169.2 955.9,3175.0 957.0,3190.0 C958.1,3205.0 957.9,3229.7 960.4,3250.0 C962.9,3270.3 968.1,3295.0 972.0,3312.0 C975.9,3329.0 979.5,3341.3 984.0,3352.0 C988.5,3362.7 993.0,3368.3 999.0,3376.0 C1005.0,3383.7 1009.8,3393.3 1020.0,3398.0 C1030.2,3402.7 1033.3,3402.8 1060.0,3404.0 C1086.7,3405.2 1123.3,3404.0 1180.0,3405.0 C1236.7,3406.0 1313.3,3408.5 1400.0,3410.0 C1486.7,3411.5 1572.7,3413.0 1700.0,3414.0 C1827.3,3415.0 2086.7,3415.7 2164.0,3416.0" fill="none" stroke="#111" stroke-width="6.5" stroke-linecap="round" stroke-linejoin="round" stroke-dasharray="29 36"/>
<path d="M261.0,3395.0 C265.0,3398.8 275.2,3413.3 285.0,3418.0 C294.8,3422.7 284.2,3421.8 320.0,3423.0 C355.8,3424.2 436.7,3424.2 500.0,3425.0 C563.3,3425.8 641.7,3427.8 700.0,3428.0 C758.3,3428.2 816.7,3427.2 850.0,3426.0 C883.3,3424.8 887.2,3423.8 900.0,3421.0 C912.8,3418.2 919.5,3423.8 927.0,3409.0 C934.5,3394.2 941.7,3351.3 945.0,3332.0 C948.3,3312.7 945.3,3315.0 947.0,3293.0 C948.7,3271.0 952.2,3232.0 955.0,3200.0 C957.8,3168.0 962.0,3130.8 963.5,3101.0 C965.0,3071.2 963.4,3047.5 964.0,3021.0 C964.6,2994.5 966.5,2968.2 967.0,2942.0 C967.5,2915.8 965.9,2890.0 967.0,2864.0 C968.1,2838.0 972.1,2812.0 973.8,2786.0 C975.5,2760.0 976.3,2727.3 977.0,2708.0 C977.7,2688.7 977.5,2669.7 978.0,2670.0 C978.5,2670.3 979.3,2696.7 980.0,2710.0 C980.7,2723.3 981.3,2736.7 982.0,2750.0 C982.7,2763.3 983.4,2776.8 984.0,2790.0 C984.6,2803.2 984.7,2810.7 985.5,2829.0 C986.3,2847.3 987.9,2874.8 989.0,2900.0 C990.1,2925.2 990.8,2956.7 992.0,2980.0 C993.2,3003.3 994.2,3013.3 996.0,3040.0 C997.8,3066.7 1000.3,3103.3 1003.0,3140.0 C1005.7,3176.7 1009.7,3233.8 1012.0,3260.0 C1014.3,3286.2 1014.5,3284.5 1017.0,3297.0 C1019.5,3309.5 1023.3,3322.0 1027.0,3335.0 C1030.7,3348.0 1034.3,3363.3 1039.0,3375.0 C1043.7,3386.7 1048.2,3397.8 1055.0,3405.0 C1061.8,3412.2 1065.8,3415.7 1080.0,3418.0 C1094.2,3420.3 1095.0,3418.3 1140.0,3419.0 C1185.0,3419.7 1273.3,3420.5 1350.0,3422.0 C1426.7,3423.5 1464.3,3425.8 1600.0,3428.0 C1735.7,3430.2 2070.0,3433.8 2164.0,3435.0" fill="none" stroke="#333" stroke-width="7" stroke-linecap="round" stroke-linejoin="round" stroke-dasharray="0.1 39"/>
<path d="M261.0,3395.0 C262.8,3397.5 267.8,3405.3 272.0,3410.0 C276.2,3414.7 279.4,3418.6 286.0,3423.0 C292.6,3427.4 302.4,3432.8 311.8,3436.5 C321.2,3440.2 332.4,3443.2 342.7,3445.0 C353.0,3446.8 364.2,3445.8 373.6,3447.0 C383.1,3448.2 390.8,3450.8 399.4,3452.0 C408.0,3453.2 415.6,3453.5 425.0,3454.0 C434.4,3454.5 447.0,3454.5 456.0,3455.0 C465.0,3455.5 470.6,3456.2 479.2,3457.0 C487.8,3457.8 497.7,3459.1 507.6,3459.7 C517.5,3460.3 529.5,3460.5 538.5,3460.7 C547.5,3460.9 553.9,3460.3 561.6,3461.0 C569.3,3461.7 575.3,3464.1 584.8,3465.0 C594.2,3465.9 608.4,3465.8 618.3,3466.5 C628.2,3467.2 635.9,3468.3 644.0,3469.0 C652.1,3469.7 657.8,3470.2 667.2,3470.5 C676.7,3470.8 690.8,3471.2 700.7,3471.0 C710.6,3470.8 718.3,3469.8 726.5,3469.0 C734.7,3468.2 740.3,3466.5 749.7,3466.0 C759.1,3465.5 773.2,3465.8 783.1,3466.0 C793.0,3466.2 800.3,3467.0 808.9,3467.0 C817.5,3467.0 825.2,3466.2 834.7,3466.0 C844.2,3465.8 856.6,3466.0 865.6,3466.0 C874.6,3466.0 880.6,3466.7 888.7,3465.9 C896.9,3465.1 904.2,3462.2 914.5,3461.0 C924.8,3459.8 941.1,3461.3 950.6,3459.0 C960.1,3456.7 966.1,3453.5 971.2,3447.0 C976.3,3440.5 978.8,3427.8 981.4,3420.0 C984.0,3412.2 984.5,3415.0 986.6,3400.0 C988.7,3385.0 991.6,3351.7 993.8,3330.0 C996.0,3308.3 998.0,3300.0 1000.0,3270.0 C1002.0,3240.0 1004.3,3203.3 1006.0,3150.0 C1007.7,3096.7 1009.0,3025.0 1010.0,2950.0 C1011.0,2875.0 1011.4,2791.7 1012.0,2700.0 C1012.6,2608.3 1013.0,2483.3 1013.5,2400.0 C1014.0,2316.7 1014.3,2254.3 1015.0,2200.0 C1015.7,2145.7 1016.5,2082.3 1017.5,2074.0 C1018.5,2065.7 1019.4,2120.7 1021.0,2150.0 C1022.6,2179.3 1025.2,2216.7 1027.0,2250.0 C1028.8,2283.3 1030.3,2308.3 1032.0,2350.0 C1033.7,2391.7 1035.3,2441.7 1037.0,2500.0 C1038.7,2558.3 1039.8,2633.3 1042.0,2700.0 C1044.2,2766.7 1047.7,2848.7 1050.0,2900.0 C1052.3,2951.3 1053.4,2981.0 1055.7,3007.8 C1058.0,3034.6 1061.5,3041.0 1064.0,3061.0 C1066.5,3081.0 1068.2,3102.9 1070.7,3128.0 C1073.2,3153.1 1076.5,3191.1 1079.0,3211.7 C1081.5,3232.3 1083.2,3237.9 1085.7,3251.8 C1088.2,3265.7 1091.5,3281.4 1094.0,3295.3 C1096.5,3309.2 1098.0,3324.3 1100.8,3335.4 C1103.6,3346.5 1107.5,3352.5 1110.8,3362.0 C1114.1,3371.5 1116.3,3382.8 1120.8,3392.2 C1125.3,3401.6 1131.0,3410.9 1138.0,3418.3 C1145.0,3425.7 1153.5,3432.7 1162.8,3436.8 C1172.1,3440.9 1183.8,3442.3 1193.7,3443.0 C1203.7,3443.7 1213.6,3441.5 1222.5,3441.0 C1231.4,3440.5 1237.7,3440.6 1247.3,3440.0 C1256.9,3439.4 1270.6,3437.7 1280.2,3437.5 C1289.8,3437.3 1296.8,3438.8 1305.0,3439.0 C1313.2,3439.2 1320.8,3438.7 1329.7,3439.0 C1338.6,3439.3 1349.2,3440.0 1358.5,3441.0 C1367.8,3442.0 1376.7,3444.0 1385.3,3445.0 C1393.9,3446.0 1400.4,3445.9 1410.0,3447.0 C1419.6,3448.1 1433.4,3450.2 1443.0,3451.3 C1452.6,3452.4 1459.5,3452.3 1467.7,3453.3 C1475.9,3454.3 1482.8,3455.7 1492.4,3457.4 C1502.0,3459.1 1515.8,3462.2 1525.4,3463.6 C1535.0,3465.0 1541.8,3464.7 1550.0,3465.7 C1558.2,3466.7 1566.6,3468.8 1574.9,3469.8 C1583.2,3470.9 1579.2,3470.8 1600.0,3472.0 C1620.8,3473.2 1650.0,3475.7 1700.0,3477.0 C1750.0,3478.3 1822.7,3479.3 1900.0,3480.0 C1977.3,3480.7 2120.0,3480.8 2164.0,3481.0" fill="none" stroke="#111" stroke-width="6.5" stroke-linecap="round" stroke-linejoin="round" stroke-dasharray="33 20 0.1 29"/>
</svg>
<svg class="cap" width="2284" height="200" viewBox="0 3800 2284 200">
<text x="1052" y="3935" font-size="84" fill="#000" textLength="103" lengthAdjust="spacingAndGlyphs">(<tspan font-weight="bold">B</tspan>)</text>
</svg>
</body></html>
